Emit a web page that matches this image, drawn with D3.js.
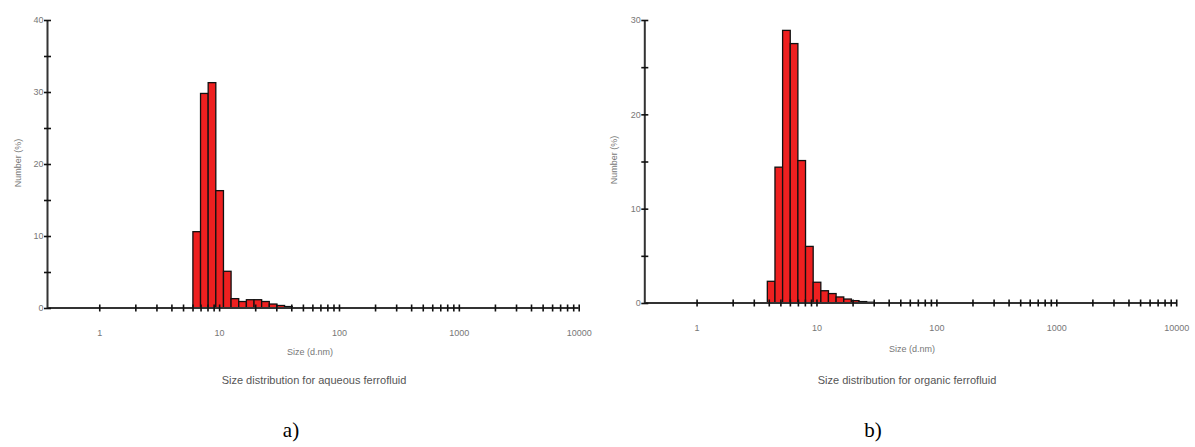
<!DOCTYPE html>
<html><head><meta charset="utf-8">
<script src="https://cdn.jsdelivr.net/npm/d3@7/dist/d3.min.js"></script>
<style>
html,body{margin:0;padding:0;background:#fff;}
svg{display:block;}
</style></head>
<body>
<svg id="chart" width="1195" height="447"></svg>
<script>
// ---- data (Malvern size classes, d.nm, and Number %) ----
const aqueousSizes  = [6.503, 7.531, 8.721, 10.1, 11.7, 13.54, 15.69, 18.17, 21.04, 24.36, 28.21, 32.67, 37.84];
const aqueousNumber = [10.6, 29.8, 31.3, 16.3, 5.1, 1.3, 0.9, 1.15, 1.15, 0.9, 0.55, 0.35, 0.2];
const organicSizes  = [4.187, 4.849, 5.615, 6.503, 7.531, 8.721, 10.1, 11.7, 13.54, 15.69, 18.17, 21.04, 24.36, 28.21];
const organicNumber = [2.3, 14.4, 28.9, 27.5, 15.1, 6.0, 2.2, 1.3, 1.0, 0.64, 0.42, 0.25, 0.15, 0.08];
const xTickLabels = ["1", "10", "100", "1000", "10000"];
const xDecades = [1, 10, 100, 1000, 10000];
const aqueousYTicks = [0, 10, 20, 30, 40];
const organicYTicks = [0, 10, 20, 30];
const titles = ["Size distribution for aqueous ferrofluid", "Size distribution for organic ferrofluid"];
const panelLetters = ["a)", "b)"];

const svg = d3.select("#chart");

function drawPanel(cfg) {
  const g = svg.append("g");
  const x = d3.scaleLog().domain([0.37, 10000]).range([cfg.x0, cfg.x1]);
  const y = d3.scaleLinear().domain([0, cfg.yMax]).range([cfg.y0, cfg.y1]);

  // bars
  const s = cfg.sizes;
  const edges = s.map((v, i) => {
    const r = i < s.length - 1 ? s[i + 1] / v : v / s[i - 1];
    const h = Math.sqrt(r);
    return [v / h, v * h];
  });
  g.selectAll("rect.bar").data(cfg.values).enter().append("rect")
    .attr("class", "bar")
    .attr("x", (d, i) => x(edges[i][0]))
    .attr("width", (d, i) => x(edges[i][1]) - x(edges[i][0]))
    .attr("y", d => y(d))
    .attr("height", d => y(0) - y(d))
    .attr("fill", "#ee2020")
    .attr("stroke", "#111")
    .attr("stroke-width", 1.3);

  // x axis ticks
  const allTicks = [];
  xDecades.forEach((d, i) => {
    if (i < xDecades.length - 1) { for (let m = 1; m < 10; m++) allTicks.push(d * m); }
    else allTicks.push(d);
  });
  const xAxis = d3.axisBottom(x).tickValues(allTicks).tickSize(3)
    .tickFormat(v => { const k = xDecades.indexOf(v); return k >= 0 ? xTickLabels[k] : ""; });
  const xg = g.append("g").attr("transform", `translate(0,${cfg.y0})`).call(xAxis);
  xg.select(".domain").attr("stroke", "#333").attr("stroke-width", 2).attr("d", `M${cfg.x0},0H${cfg.x1}`);
  xg.selectAll(".tick line").attr("y1", -3.5).attr("y2", 3.5).attr("stroke", "#111").attr("stroke-width", 1.6);
  xg.selectAll(".tick text").attr("y", cfg.xLabelDy).attr("fill", "#777")
    .style("font-family", "Liberation Sans, Arial, sans-serif").style("font-size", "9px");

  // y axis
  const yMinor = d3.range(0, cfg.yMax + 0.1, 5);
  const yAxis = d3.axisLeft(y).tickValues(yMinor).tickSize(3)
    .tickFormat(v => cfg.yTicks.includes(v) ? String(v) : "");
  const yg = g.append("g").attr("transform", `translate(${cfg.x0},0)`).call(yAxis);
  yg.select(".domain").attr("stroke", "#333").attr("stroke-width", 2).attr("d", `M0,${cfg.y1}V${cfg.y0}`);
  yg.selectAll(".tick line").attr("x1", -3.5).attr("x2", 3.5).attr("stroke", "#111").attr("stroke-width", 1.6);
  yg.selectAll(".tick text").attr("x", -4).attr("fill", "#777")
    .style("font-family", "Liberation Sans, Arial, sans-serif").style("font-size", "9px");

  // axis titles
  g.append("text").attr("transform", `translate(${cfg.yLabelX},${cfg.yLabelY}) rotate(-90)`)
    .attr("text-anchor", "middle").attr("fill", "#777")
    .style("font-family", "Liberation Sans, Arial, sans-serif").style("font-size", "9px")
    .text("Number (%)");
  g.append("text").attr("x", cfg.xLabelX).attr("y", cfg.xLabelY)
    .attr("text-anchor", "middle").attr("fill", "#777")
    .style("font-family", "Liberation Sans, Arial, sans-serif").style("font-size", "9px")
    .text("Size (d.nm)");
  g.append("text").attr("x", cfg.titleX).attr("y", cfg.titleY)
    .attr("text-anchor", "middle").attr("fill", "#555")
    .style("font-family", "Liberation Sans, Arial, sans-serif").style("font-size", "11px")
    .text(cfg.title);
  g.append("text").attr("x", cfg.letterX).attr("y", cfg.letterY)
    .attr("text-anchor", "middle").attr("fill", "#000")
    .style("font-family", "Liberation Serif, Times New Roman, serif").style("font-size", "21px")
    .text(cfg.letter);
}

drawPanel({
  sizes: aqueousSizes, values: aqueousNumber, yMax: 40, yTicks: aqueousYTicks,
  x0: 47.5, x1: 578.7, y0: 308, y1: 20, xLabelDy: 22,
  yLabelX: 21, yLabelY: 163, xLabelX: 310, xLabelY: 355,
  title: titles[0], titleX: 314, titleY: 384, letter: panelLetters[0], letterX: 291, letterY: 437
});
drawPanel({
  sizes: organicSizes, values: organicNumber, yMax: 30, yTicks: organicYTicks,
  x0: 644.8, x1: 1176.2, y0: 303, y1: 20, xLabelDy: 22,
  yLabelX: 617, yLabelY: 160, xLabelX: 912, xLabelY: 352,
  title: titles[1], titleX: 907, titleY: 384, letter: panelLetters[1], letterX: 873, letterY: 437
});
</script>
</body></html>
